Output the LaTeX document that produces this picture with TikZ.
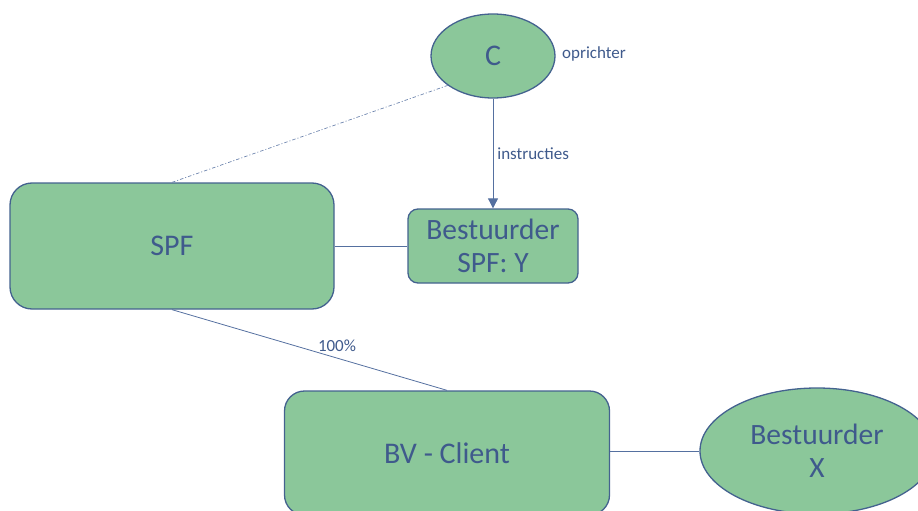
\documentclass[tikz,border=0pt]{standalone}
\usepackage{fontspec}
\setmainfont{Carlito}
\usetikzlibrary{shapes.geometric,arrows.meta}

\definecolor{boxfill}{HTML}{8BC79A}
\definecolor{boxline}{HTML}{44628F}
\definecolor{txt}{HTML}{3F5A8C}
\definecolor{wire}{HTML}{5570A0}

\tikzset{
  entity/.style={draw=boxline, line width=1.3pt, fill=boxfill, text=txt,
    align=center, inner sep=0pt, font=\fontsize{30}{34}\selectfont},
  rbox/.style={entity, rectangle},
  oval/.style={entity, ellipse},
  link/.style={draw=wire, line width=0.8pt},
  tag/.style={text=txt, font=\fontsize{17}{19}\selectfont, inner sep=2pt}
}

\begin{document}
\begin{tikzpicture}[x=1pt, y=-1pt]
  \useasboundingbox (0,0) rectangle (918,511);
  \clip (0,0) rectangle (918,511);

  % founder
  \node[oval, minimum width=124pt, minimum height=84pt] (c) at (493,56) {C};
  \node[tag, anchor=west] (opr) at (560,54) {oprichter};

  % foundation and its director
  \node[rbox, rounded corners=22pt, minimum width=324pt, minimum height=126pt]
       (spf) at (172,246) {SPF};
  \node[rbox, rounded corners=10pt, minimum width=170pt, minimum height=74pt,
        font=\fontsize{29.5}{33}\selectfont] (by) at (493,246) {Bestuurder\\SPF: Y};

  % client company and its director
  \node[rbox, rounded corners=20pt, minimum width=325pt, minimum height=124pt]
       (bv) at (447,453) {BV - Client};
  \node[oval, minimum width=234pt, minimum height=126pt,
        font=\fontsize{29.5}{33}\selectfont] (bx) at (817,451) {Bestuurder\\X};

  % connectors
  \draw[link, line width=0.7pt, draw=wire!85,
        dash pattern=on 3.5pt off 2pt on 1pt off 2pt] (spf.north) -- (c.213.7);
  \draw[link, -{Triangle[length=10pt,width=10pt]}] (c.south) -- (by.north)
     node[tag, pos=0.5, anchor=west, xshift=2pt] {instructies};
  \draw[link] (spf.east) -- (by.west);
  \draw[link] (spf.south) -- (bv.north)
     node[tag, pos=0.6, above=4pt] {100\%};
  \draw[link] (bx.west -| bv.east) -- (bx.west);
\end{tikzpicture}
\end{document}
